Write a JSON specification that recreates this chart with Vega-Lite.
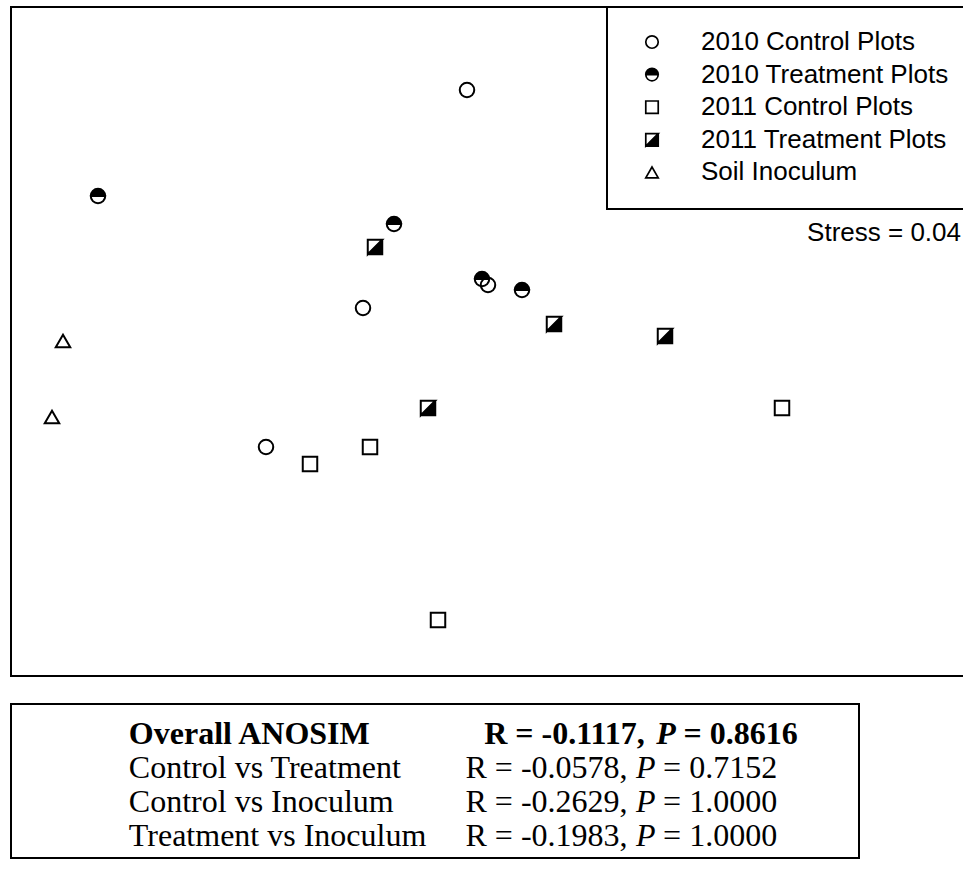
{
  "$schema": "https://vega.github.io/schema/vega-lite/v6.json",
  "background": "white",
  "padding": {"left": 9, "top": 5, "right": 0, "bottom": 0},
  "spacing": 25,
  "config": {"view": {"stroke": null}, "font": "Liberation Sans"},
  "vconcat": [
    {
      "width": 952,
      "height": 669,
      "layer": [
        {
          "data": {
            "values": [
              {"group": "2010 Treatment Plots", "nmds1": -1.556, "nmds2": 0.582},
              {"group": "2010 Treatment Plots", "nmds1": -0.372, "nmds2": 0.47},
              {"group": "2010 Treatment Plots", "nmds1": -0.02, "nmds2": 0.25},
              {"group": "2010 Treatment Plots", "nmds1": 0.14, "nmds2": 0.206},
              {"group": "2011 Treatment Plots", "nmds1": -0.448, "nmds2": 0.378},
              {"group": "2011 Treatment Plots", "nmds1": 0.268, "nmds2": 0.07},
              {"group": "2011 Treatment Plots", "nmds1": 0.712, "nmds2": 0.022},
              {"group": "2011 Treatment Plots", "nmds1": -0.236, "nmds2": -0.266},
              {"group": "2010 Control Plots", "nmds1": -0.08, "nmds2": 1.006},
              {"group": "2010 Control Plots", "nmds1": -0.496, "nmds2": 0.134},
              {"group": "2010 Control Plots", "nmds1": -0.884, "nmds2": -0.422},
              {"group": "2010 Control Plots", "nmds1": 0.004, "nmds2": 0.226},
              {"group": "2011 Control Plots", "nmds1": 1.18, "nmds2": -0.266},
              {"group": "2011 Control Plots", "nmds1": -0.468, "nmds2": -0.422},
              {"group": "2011 Control Plots", "nmds1": -0.708, "nmds2": -0.49},
              {"group": "2011 Control Plots", "nmds1": -0.196, "nmds2": -1.114},
              {"group": "Soil Inoculum", "nmds1": -1.696, "nmds2": 0.002},
              {"group": "Soil Inoculum", "nmds1": -1.74, "nmds2": -0.302}
            ]
          },
          "mark": {"type": "point", "filled": true, "stroke": "black", "strokeWidth": 2, "size": 210, "opacity": 1},
          "encoding": {
            "x": {"field": "nmds1", "type": "quantitative", "axis": null, "scale": {"domain": [-1.904, 1.904], "nice": false, "zero": false}},
            "y": {"field": "nmds2", "type": "quantitative", "axis": null, "scale": {"domain": [-1.338, 1.338], "nice": false, "zero": false}},
            "shape": {
              "field": "group",
              "type": "nominal",
              "scale": {
                "domain": ["2010 Control Plots", "2010 Treatment Plots", "2011 Control Plots", "2011 Treatment Plots", "Soil Inoculum"],
                "range": ["circle", "M-1,0A1,1,0,1,1,1,0A1,1,0,1,1,-1,0ZM-1,0A1,1,0,0,0,1,0Z", "square", "M-1,-1L1,-1L1,1L-1,1ZM-1,-1L-1,1L1,-1Z", "triangle-up"]
              },
              "legend": {
                "orient": "none", "legendX": 628, "legendY": 22, "title": null, "padding": 0,
                "labelFont": "Liberation Sans", "labelFontSize": 26, "labelColor": "black", "labelLimit": 400,
                "labelOffset": 36, "rowPadding": 6.6, "symbolSize": 155, "symbolStrokeWidth": 1.7,
                "symbolStrokeColor": "black", "symbolOpacity": 1,
                "encode": {"symbols": {"update": {"stroke": {"value": "black"}, "strokeWidth": {"value": 1.7}}}}
              }
            },
            "fill": {
              "field": "group",
              "type": "nominal",
              "scale": {
                "domain": ["2010 Control Plots", "2010 Treatment Plots", "2011 Control Plots", "2011 Treatment Plots", "Soil Inoculum"],
                "range": ["transparent", "black", "transparent", "black", "transparent"]
              },
              "legend": {
                "orient": "none", "legendX": 628, "legendY": 22, "title": null, "padding": 0,
                "labelFont": "Liberation Sans", "labelFontSize": 26, "labelColor": "black", "labelLimit": 400,
                "labelOffset": 36, "rowPadding": 6.6, "symbolSize": 155, "symbolStrokeWidth": 1.7,
                "symbolStrokeColor": "black", "symbolOpacity": 1,
                "encode": {"symbols": {"update": {"stroke": {"value": "black"}, "strokeWidth": {"value": 1.7}}}}
              }
            }
          }
        },
        {
          "data": {"values": [{"label": "Stress = 0.04"}]},
          "mark": {"type": "text", "align": "right", "baseline": "middle", "font": "Liberation Sans", "fontSize": 26, "color": "black"},
          "encoding": {
            "x": {"datum": 1.896, "type": "quantitative"},
            "y": {"datum": 0.434, "type": "quantitative"},
            "text": {"field": "label"}
          }
        },
        {
          "data": {"values": [{}]},
          "mark": {"type": "rule", "color": "black", "strokeWidth": 2, "strokeCap": "square"},
          "encoding": {
            "x": {"datum": -1.904, "type": "quantitative"},
            "x2": {"datum": 1.904},
            "y": {"datum": 1.338, "type": "quantitative"}
          }
        },
        {
          "data": {"values": [{}]},
          "mark": {"type": "rule", "color": "black", "strokeWidth": 2, "strokeCap": "square"},
          "encoding": {
            "x": {"datum": -1.904, "type": "quantitative"},
            "y": {"datum": -1.338, "type": "quantitative"},
            "y2": {"datum": 1.338}
          }
        },
        {
          "data": {"values": [{}]},
          "mark": {"type": "rule", "color": "black", "strokeWidth": 2, "strokeCap": "square"},
          "encoding": {
            "x": {"datum": -1.904, "type": "quantitative"},
            "x2": {"datum": 1.904},
            "y": {"datum": -1.338, "type": "quantitative"}
          }
        },
        {
          "data": {"values": [{}]},
          "mark": {"type": "rule", "color": "black", "strokeWidth": 2, "strokeCap": "square"},
          "encoding": {
            "x": {"datum": 0.48, "type": "quantitative"},
            "y": {"datum": 0.53, "type": "quantitative"},
            "y2": {"datum": 1.338}
          }
        },
        {
          "data": {"values": [{}]},
          "mark": {"type": "rule", "color": "black", "strokeWidth": 2, "strokeCap": "square"},
          "encoding": {
            "x": {"datum": 0.48, "type": "quantitative"},
            "x2": {"datum": 1.904},
            "y": {"datum": 0.53, "type": "quantitative"}
          }
        }
      ]
    },
    {
      "width": 848,
      "height": 154,
      "view": {"stroke": "black", "strokeWidth": 2},
      "data": {
        "values": [
          {"row": 1, "comparison": "Overall ANOSIM", "R": "-0.1117", "P": "0.8616", "overall": true},
          {"row": 2, "comparison": "Control vs Treatment", "R": "-0.0578", "P": "0.7152", "overall": false},
          {"row": 3, "comparison": "Control vs Inoculum", "R": "-0.2629", "P": "1.0000", "overall": false},
          {"row": 4, "comparison": "Treatment vs Inoculum", "R": "-0.1983", "P": "1.0000", "overall": false}
        ]
      },
      "transform": [
        {"calculate": "'R = ' + datum.R + ','", "as": "rText"},
        {"calculate": "'= ' + datum.P", "as": "pText"}
      ],
      "encoding": {
        "y": {"field": "row", "type": "quantitative", "axis": null, "scale": {"domain": [0.11, 4.64], "reverse": true, "nice": false, "zero": false}}
      },
      "layer": [
        {
          "transform": [{"filter": "datum.overall"}],
          "mark": {"type": "text", "align": "left", "baseline": "middle", "font": "Liberation Serif", "fontSize": 32, "fontWeight": "bold", "color": "black"},
          "encoding": {
            "x": {"datum": 0.139, "type": "quantitative", "axis": null, "scale": {"domain": [0, 1], "nice": false, "zero": false}},
            "text": {"field": "comparison"}
          }
        },
        {
          "transform": [{"filter": "!datum.overall"}],
          "mark": {"type": "text", "align": "left", "baseline": "middle", "font": "Liberation Serif", "fontSize": 32, "color": "black"},
          "encoding": {
            "x": {"datum": 0.139, "type": "quantitative"},
            "text": {"field": "comparison"}
          }
        },
        {
          "transform": [{"filter": "datum.overall"}],
          "mark": {"type": "text", "align": "left", "baseline": "middle", "font": "Liberation Serif", "fontSize": 32, "fontWeight": "bold", "color": "black"},
          "encoding": {
            "x": {"datum": 0.558, "type": "quantitative"},
            "text": {"field": "rText"}
          }
        },
        {
          "transform": [{"filter": "datum.overall"}],
          "mark": {"type": "text", "align": "left", "baseline": "middle", "font": "Liberation Serif", "fontSize": 32, "fontWeight": "bold", "fontStyle": "italic", "color": "black", "text": "P"},
          "encoding": {
            "x": {"datum": 0.761, "type": "quantitative"}
          }
        },
        {
          "transform": [{"filter": "datum.overall"}],
          "mark": {"type": "text", "align": "left", "baseline": "middle", "font": "Liberation Serif", "fontSize": 32, "fontWeight": "bold", "color": "black"},
          "encoding": {
            "x": {"datum": 0.793, "type": "quantitative"},
            "text": {"field": "pText"}
          }
        },
        {
          "transform": [{"filter": "!datum.overall"}],
          "mark": {"type": "text", "align": "left", "baseline": "middle", "font": "Liberation Serif", "fontSize": 32, "color": "black"},
          "encoding": {
            "x": {"datum": 0.536, "type": "quantitative"},
            "text": {"field": "rText"}
          }
        },
        {
          "transform": [{"filter": "!datum.overall"}],
          "mark": {"type": "text", "align": "left", "baseline": "middle", "font": "Liberation Serif", "fontSize": 32, "fontStyle": "italic", "color": "black", "text": "P"},
          "encoding": {
            "x": {"datum": 0.737, "type": "quantitative"}
          }
        },
        {
          "transform": [{"filter": "!datum.overall"}],
          "mark": {"type": "text", "align": "left", "baseline": "middle", "font": "Liberation Serif", "fontSize": 32, "color": "black"},
          "encoding": {
            "x": {"datum": 0.769, "type": "quantitative"},
            "text": {"field": "pText"}
          }
        }
      ]
    }
  ]
}
